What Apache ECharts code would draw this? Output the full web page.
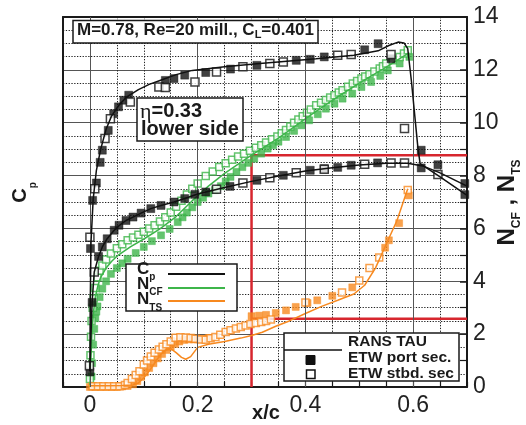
<!DOCTYPE html>
<html>
<head>
<meta charset="utf-8">
<script src="https://cdn.jsdelivr.net/npm/echarts@6/dist/echarts.min.js"></script>
<style>
  html, body { margin: 0; padding: 0; background: #fff; }
  #chart { width: 526px; height: 425px; }
</style>
</head>
<body>
<div id="chart"></div>
<script>
// ---- axis layout values ----
const xRange = [-0.05, 0.7];
const xMinorStep = 0.05;
const xMajorGrid = [0, 0.2, 0.4, 0.6];
const yRange = [0, 14];
const yMajorStep = 2;
const yMinorStep = 0.5;

// ---- C_p (black), branch with the suction peak and shock ----
const cpRansHigh = [[0.000,0.6],[0.0005,3.0],[0.002,5.5],[0.006,7.1],[0.012,8.2],[0.02,9.0],[0.03,9.75],[0.04,10.25],[0.055,10.7],[0.07,11.0],[0.09,11.25],[0.11,11.45],[0.13,11.6],[0.16,11.82],[0.19,11.98],[0.25,12.12],[0.31,12.23],[0.36,12.32],[0.42,12.42],[0.49,12.55],[0.535,12.72],[0.555,12.92],[0.572,13.05],[0.583,13.02],[0.59,12.8],[0.597,11.54],[0.603,10.28],[0.609,9.02],[0.613,8.45],[0.65,7.95],[0.7,7.25]];
// ---- C_p (black), lower branch ----
const cpRansLow = [[0.000,0.6],[0.002,2.0],[0.004,3.2],[0.008,4.35],[0.016,4.94],[0.023,5.3],[0.032,5.61],[0.045,5.93],[0.055,6.12],[0.067,6.3],[0.08,6.43],[0.095,6.58],[0.113,6.75],[0.132,6.87],[0.156,7.0],[0.176,7.13],[0.2,7.3],[0.25,7.55],[0.3,7.78],[0.35,7.98],[0.4,8.17],[0.45,8.3],[0.5,8.4],[0.55,8.47],[0.59,8.47],[0.62,8.35],[0.65,8.1],[0.7,7.6]];
const cpPort = [[0.000,0.57],[0.001,5.24],[0.005,7.06],[0.012,7.72],[0.019,8.5],[0.023,8.96],[0.034,9.71],[0.044,10.34],[0.053,10.6],[0.063,10.85],[0.072,11.04],[0.14,11.6],[0.156,11.67],[0.176,11.8],[0.215,11.9],[0.261,12.03],[0.31,12.17],[0.383,12.36],[0.409,12.4],[0.435,12.49],[0.51,12.76],[0.535,12.99],[0.559,12.42],[0.615,8.96],[0.646,8.41],[0.696,7.7],[0.696,7.28],
  [0.004,3.2],[0.016,4.94],[0.023,5.3],[0.032,5.61],[0.045,5.93],[0.054,6.12],[0.067,6.3],[0.08,6.43],[0.095,6.58],[0.113,6.75],[0.132,6.87],[0.156,7.0],[0.176,7.13],[0.195,7.29],[0.215,7.38],[0.26,7.59],[0.31,7.82],[0.359,8.01],[0.409,8.2],[0.435,8.26],[0.46,8.31],[0.485,8.39],[0.534,8.48],[0.615,8.29]];
const cpStbd = [[-0.001,0.8],[0.0,5.67],[0.009,7.5],[0.028,9.4],[0.038,10.15],[0.075,10.78],[0.128,11.35],[0.14,11.33],[0.195,11.54],[0.235,11.92],[0.284,12.12],[0.334,12.24],[0.359,12.3],[0.46,12.55],[0.485,12.58],[0.559,12.58],[0.584,9.78],[0.646,8.04],
  [0.008,4.35],[0.235,7.48],[0.284,7.72],[0.334,7.92],[0.383,8.11],[0.435,8.24],[0.51,8.43],[0.559,8.48],[0.584,8.48]];

// ---- N_CF (green) ----
const ncfRans = [[0.0,0.0],[0.002,1.2],[0.004,2.2],[0.007,2.9],[0.01,3.4],[0.015,3.85],[0.02,4.15],[0.03,4.5],[0.04,4.75],[0.05,4.95],[0.075,5.3],[0.1,5.6],[0.13,5.98],[0.16,6.45],[0.19,7.05],[0.22,7.6],[0.25,8.08],[0.28,8.5],[0.3,8.77],[0.35,9.42],[0.4,10.15],[0.45,10.85],[0.5,11.5],[0.55,12.1],[0.593,12.65]];
const ncfPort = [[0.003,0.4],[0.004,0.9],[0.006,1.6],[0.008,2.2],[0.01,2.6],[0.012,2.85],[0.014,3.05],[0.018,3.4],[0.023,3.72],[0.03,4.0],[0.039,4.28],[0.05,4.5],[0.06,4.68],[0.07,4.85],[0.085,5.07],[0.1,5.3],[0.115,5.52],[0.132,5.74],[0.148,5.98],[0.163,6.24],[0.172,6.42],[0.18,6.6],[0.19,6.8],[0.2,7.0],[0.21,7.16],[0.22,7.32],[0.232,7.45],[0.243,7.6],[0.252,7.78],[0.261,7.95],[0.272,8.14],[0.283,8.32],[0.294,8.48],[0.305,8.64],[0.318,8.83],[0.33,9.02],[0.34,9.15],[0.35,9.28],[0.364,9.46],[0.379,9.69],[0.393,9.9],[0.407,10.09],[0.423,10.32],[0.438,10.53],[0.454,10.72],[0.469,10.91],[0.487,11.1],[0.504,11.35],[0.522,11.54],[0.539,11.77],[0.553,11.98],[0.575,12.24],[0.593,12.49]];
const ncfStbd = [[0.0,0.3],[0.001,1.2],[0.002,1.9],[0.003,2.5],[0.005,3.0],[0.007,3.35],[0.01,3.75],[0.014,4.15],[0.018,4.4],[0.023,4.6],[0.03,4.82],[0.039,5.05],[0.05,5.25],[0.06,5.4],[0.07,5.55],[0.08,5.66],[0.09,5.76],[0.1,5.87],[0.11,6.0],[0.12,6.12],[0.13,6.26],[0.14,6.42],[0.15,6.6],[0.16,6.82],[0.17,7.05],[0.18,7.28],[0.19,7.5],[0.2,7.7],[0.215,7.98],[0.228,8.15],[0.24,8.32],[0.252,8.47],[0.264,8.6],[0.275,8.72],[0.286,8.83],[0.297,8.94],[0.308,9.05],[0.318,9.15],[0.327,9.25],[0.338,9.37],[0.348,9.48],[0.356,9.6],[0.364,9.72],[0.372,9.86],[0.379,10.0],[0.387,10.12],[0.395,10.24],[0.403,10.38],[0.41,10.5],[0.42,10.66],[0.429,10.76],[0.438,10.86],[0.446,10.95],[0.454,11.04],[0.462,11.14],[0.469,11.23],[0.479,11.36],[0.488,11.48],[0.496,11.58],[0.504,11.67],[0.511,11.75],[0.519,11.83],[0.528,11.94],[0.538,12.05],[0.544,12.14],[0.55,12.24],[0.562,12.36],[0.575,12.49],[0.583,12.62],[0.59,12.74]];

// ---- N_TS (orange) ----
const ntsRans = [[-0.002,0.05],[0.03,0.05],[0.06,0.06],[0.08,0.08],[0.09,0.15],[0.1,0.35],[0.11,0.6],[0.12,0.9],[0.13,1.2],[0.14,1.4],[0.15,1.45],[0.16,1.3],[0.17,1.12],[0.178,1.05],[0.187,1.15],[0.2,1.5],[0.22,1.62],[0.25,1.72],[0.28,1.85],[0.3,1.95],[0.32,2.07],[0.345,2.3],[0.37,2.5],[0.4,2.78],[0.43,3.05],[0.46,3.28],[0.49,3.52],[0.51,3.85],[0.53,4.5],[0.55,5.4],[0.57,6.3],[0.59,7.5]];
const ntsPort = [[0.0,0.0],[0.01,0.0],[0.02,0.0],[0.03,0.0],[0.04,0.0],[0.05,0.0],[0.06,0.02],[0.07,0.04],[0.08,0.1],[0.088,0.22],[0.095,0.38],[0.102,0.55],[0.11,0.72],[0.118,0.9],[0.126,1.08],[0.134,1.25],[0.142,1.4],[0.15,1.52],[0.158,1.63],[0.166,1.72],[0.175,1.78],[0.184,1.8],[0.193,1.8],[0.2,1.8],[0.21,1.82],[0.22,1.85],[0.3,2.68],[0.314,2.7],[0.327,2.73],[0.345,2.8],[0.364,2.9],[0.382,3.03],[0.404,3.18],[0.422,3.28],[0.45,3.45],[0.487,3.77],[0.548,5.27],[0.555,5.55],[0.574,6.2],[0.592,7.25]];
const ntsStbd = [[0.005,0.03],[0.015,0.03],[0.025,0.03],[0.035,0.03],[0.045,0.03],[0.055,0.03],[0.065,0.08],[0.07,0.15],[0.078,0.3],[0.085,0.45],[0.092,0.6],[0.1,0.85],[0.106,1.0],[0.113,1.15],[0.12,1.3],[0.128,1.42],[0.135,1.52],[0.142,1.62],[0.15,1.72],[0.159,1.86],[0.168,1.88],[0.178,1.87],[0.187,1.85],[0.196,1.83],[0.206,1.8],[0.215,1.79],[0.224,1.84],[0.233,1.89],[0.242,1.98],[0.252,2.08],[0.261,2.15],[0.271,2.21],[0.28,2.27],[0.289,2.33],[0.298,2.38],[0.308,2.42],[0.318,2.46],[0.327,2.5],[0.336,2.55],[0.4,3.2],[0.468,3.58],[0.5,4.03],[0.519,4.5],[0.537,4.9],[0.59,7.45]];

// ---- red reference lines ----
const redCorner = [[0.3, 0], [0.3, 8.77], [0.7, 8.77]];
const redLower = [[0.3, 2.58], [0.7, 2.58]];

const FONT = '"Liberation Sans", Arial, Helvetica, sans-serif';
const INK = '#1a1a1a';
const GREEN = '#3db54a';
const ORANGE = '#f7891f';
const RED = '#d7262e';

function markers(name, data, color, filled, size) {
  return {
    name, type: 'scatter', xAxisIndex: 0, yAxisIndex: 1, data,
    symbol: 'rect', symbolSize: size, clip: false, z: 3,
    itemStyle: filled
      ? { color: color, borderColor: color, borderWidth: 0.5 }
      : { color: '#fff', borderColor: color, borderWidth: 1.5 }
  };
}
function curve(name, data, color, width, yIdx, z) {
  return {
    name, type: 'line', xAxisIndex: 0, yAxisIndex: yIdx, data,
    showSymbol: false, symbol: 'none', clip: false, z: z || 4,
    lineStyle: { color: color, width: width }
  };
}

const dotted = { color: '#222', width: 1, type: [1.3, 1.5] };
const frameLine = { show: true, onZero: false, lineStyle: { color: INK, width: 2 } };

function xLabel(v) {
  const k = Math.round(v * 100);
  if (k < 0 || k % 20 !== 0) return '';
  return k === 0 ? '0' : (k / 100).toFixed(1);
}

// text helpers for the boxed annotations
function box(x, y, w, h) {
  return { type: 'rect', z: 100, shape: { x, y, width: w, height: h },
    style: { fill: '#fff', stroke: INK, lineWidth: 1.5 } };
}
function richText(x, y, text, rich, extra) {
  return Object.assign({ type: 'text', z: 101, x, y,
    style: { text, rich, fill: INK, align: 'left', verticalAlign: 'top' } }, extra || {});
}

const legendRich = {
  m: { fontFamily: FONT, fontSize: 17, fontWeight: 'bold', lineHeight: 17, verticalAlign: 'top', fill: INK },
  s: { fontFamily: FONT, fontSize: 10, fontWeight: 'bold', lineHeight: 10, verticalAlign: 'top', padding: [12, 0, 0, 0], fill: INK }
};

const option = {
  animation: false,
  backgroundColor: '#fff',
  grid: { left: 63, top: 17, width: 404, height: 370 },
  xAxis: [
    { type: 'value', min: xRange[0], max: xRange[1], interval: xMinorStep, position: 'bottom',
      axisLine: frameLine,
      axisTick: { show: true, inside: true, length: 5, lineStyle: { color: INK, width: 1.2 } },
      axisLabel: { formatter: xLabel, fontSize: 23, color: '#222', fontFamily: FONT, margin: 7 },
      splitLine: { show: true, lineStyle: dotted } },
    { type: 'value', min: xRange[0], max: xRange[1], position: 'top',
      axisLine: frameLine, axisTick: { show: false }, axisLabel: { show: false }, splitLine: { show: false } }
  ],
  yAxis: [
    { type: 'value', min: yRange[0], max: yRange[1], interval: yMinorStep, position: 'left',
      axisLine: frameLine, axisTick: { show: false }, axisLabel: { show: false },
      splitLine: { show: true, lineStyle: dotted } },
    { type: 'value', min: yRange[0], max: yRange[1], interval: yMajorStep, position: 'right',
      axisLine: frameLine,
      axisTick: { show: true, inside: true, length: 7, lineStyle: { color: INK, width: 1.5 } },
      minorTick: { show: true, splitNumber: 2, length: 7, lineStyle: { color: INK, width: 1.2 } },
      axisLabel: { fontSize: 23, color: '#222', fontFamily: FONT, margin: 6 },
      splitLine: { show: true, lineStyle: { color: '#555', width: 1, type: 'solid' } } }
  ],
  series: [
    { name: 'major x grid', type: 'line', xAxisIndex: 0, yAxisIndex: 1, data: [], z: 1,
      markLine: { silent: true, symbol: 'none', animation: false, label: { show: false },
        lineStyle: { color: '#555', width: 1, type: 'solid' },
        data: xMajorGrid.map(v => ({ xAxis: v })) } },
    curve('red corner', redCorner, RED, 2.5, 1, 2),
    curve('red lower', redLower, RED, 2.5, 1, 2),
    markers('N_CF port', ncfPort, GREEN, true, 7),
    markers('N_CF stbd', ncfStbd, GREEN, false, 7),
    curve('N_CF RANS', ncfRans, GREEN, 1.5, 1, 4),
    markers('N_TS port', ntsPort, ORANGE, true, 7),
    markers('N_TS stbd', ntsStbd, ORANGE, false, 7),
    curve('N_TS RANS', ntsRans, ORANGE, 1.5, 1, 4),
    Object.assign(markers('Cp port', cpPort, '#111', true, 8), { yAxisIndex: 0, z: 5 }),
    Object.assign(markers('Cp stbd', cpStbd, '#111', false, 8), { yAxisIndex: 0, z: 5 }),
    curve('Cp RANS high', cpRansHigh, '#111', 1.5, 0, 6),
    curve('Cp RANS low', cpRansLow, '#111', 1.5, 0, 6)
  ],
  graphic: [
    // flow conditions
    box(73, 20.5, 245, 22.5),
    richText(77, 21.5, '{m|M=0.78, Re=20 mill., C}{s|L}{m|=0.401}', {
      m: { fontFamily: FONT, fontSize: 17, fontWeight: 'bold', lineHeight: 20, verticalAlign: 'top', fill: INK },
      s: { fontFamily: FONT, fontSize: 11, fontWeight: 'bold', lineHeight: 11, verticalAlign: 'top', padding: [7.5, 0, 0, 0], fill: INK }
    }),
    // station label
    box(137, 98, 106, 43),
    richText(140, 101, '{g|η}{m|=0.33}', {
      g: { fontFamily: '"Liberation Serif", "DejaVu Serif", serif', fontSize: 22, lineHeight: 20, verticalAlign: 'top', fill: INK },
      m: { fontFamily: FONT, fontSize: 20, fontWeight: 'bold', lineHeight: 20, verticalAlign: 'top', fill: INK }
    }),
    richText(141, 119, '{m|lower side}', {
      m: { fontFamily: FONT, fontSize: 20, fontWeight: 'bold', lineHeight: 20, verticalAlign: 'top', fill: INK }
    }),
    // quantity legend
    box(126, 264, 111, 47),
    richText(137, 260.5, '{m|C}{s|p}', legendRich),
    richText(137, 275.5, '{m|N}{s|CF}', legendRich),
    richText(137, 291, '{m|N}{s|TS}', legendRich),
    { type: 'line', z: 101, shape: { x1: 168, y1: 274, x2: 225, y2: 274 }, style: { stroke: '#111', lineWidth: 2 } },
    { type: 'line', z: 101, shape: { x1: 168, y1: 288, x2: 225, y2: 288 }, style: { stroke: GREEN, lineWidth: 2 } },
    { type: 'line', z: 101, shape: { x1: 168, y1: 301, x2: 225, y2: 301 }, style: { stroke: ORANGE, lineWidth: 2 } },
    // data-source legend
    box(284, 333, 175, 48),
    { type: 'text', z: 101, x: 348, y: 342, style: { text: 'RANS TAU', fontFamily: FONT, fontSize: 15.5, fontWeight: 'bold', fill: INK, verticalAlign: 'middle' } },
    { type: 'text', z: 101, x: 348, y: 358, style: { text: 'ETW port sec.', fontFamily: FONT, fontSize: 15.5, fontWeight: 'bold', fill: INK, verticalAlign: 'middle' } },
    { type: 'text', z: 101, x: 348, y: 373.5, style: { text: 'ETW stbd. sec', fontFamily: FONT, fontSize: 15.5, fontWeight: 'bold', fill: INK, verticalAlign: 'middle' } },
    { type: 'line', z: 101, shape: { x1: 284, y1: 350, x2: 342, y2: 350 }, style: { stroke: '#111', lineWidth: 1.5 } },
    { type: 'rect', z: 101, shape: { x: 306, y: 355.5, width: 9, height: 9 }, style: { fill: '#111', stroke: '#111', lineWidth: 1 } },
    { type: 'rect', z: 101, shape: { x: 306.5, y: 370, width: 8.5, height: 8.5 }, style: { fill: '#fff', stroke: '#111', lineWidth: 1.5 } },
    // axis titles
    { type: 'text', z: 101, x: 266, y: 413, style: { text: 'x/c', fontFamily: FONT, fontSize: 20, fontWeight: 'bold', fill: INK, align: 'center', verticalAlign: 'middle' } },
    { type: 'text', z: 101, x: 10.5, y: 192.5, rotation: Math.PI / 2,
      style: { text: '{m|C}{s|p}', align: 'center', verticalAlign: 'top', rich: {
        m: { fontFamily: FONT, fontSize: 20, fontWeight: 'bold', lineHeight: 22, verticalAlign: 'top', fill: INK },
        s: { fontFamily: FONT, fontSize: 10, fontWeight: 'bold', lineHeight: 10, verticalAlign: 'top', padding: [18, 0, 0, 0], fill: INK } } } },
    { type: 'text', z: 101, x: 495.5, y: 202.5, rotation: Math.PI / 2,
      style: { text: '{m|N}{s|CF}{m| , N}{s|TS}', align: 'center', verticalAlign: 'top', rich: {
        m: { fontFamily: FONT, fontSize: 24, fontWeight: 'bold', lineHeight: 26, verticalAlign: 'top', fill: INK },
        s: { fontFamily: FONT, fontSize: 12, fontWeight: 'bold', lineHeight: 13, verticalAlign: 'top', padding: [15, 0, 0, 0], fill: INK } } } }
  ]
};

const chart = echarts.init(document.getElementById('chart'), null, { renderer: 'canvas' });
chart.setOption(option);
</script>
</body>
</html>
